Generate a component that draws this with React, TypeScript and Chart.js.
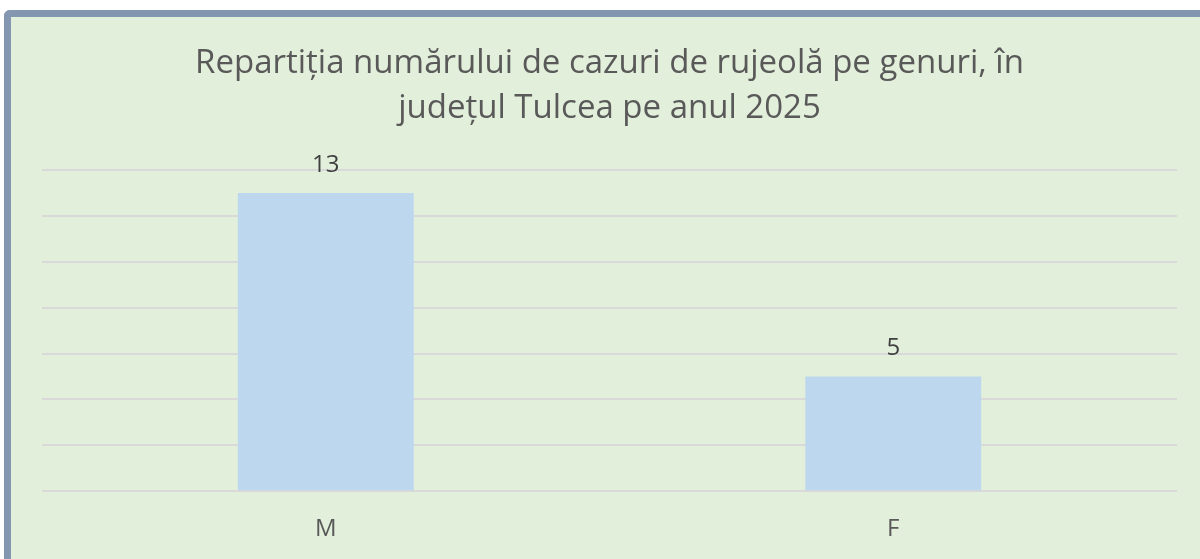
import React, { useEffect, useRef } from "react";
import { Chart, registerables } from "chart.js";

Chart.register(...registerables);

const categories = ["M", "F"];
const cases = [13, 5];
const titleLines = ["Repartiția numărului de cazuri de rujeolă pe genuri, în", "județul Tulcea pe anul 2025"];
const yMax = 14;
const yStep = 2;

const FONT = "'Open Sans', 'Noto Sans', sans-serif";

const valueLabels = {
  id: "valueLabels",
  afterDatasetsDraw(chart: any) {
    const ctx = chart.ctx;
    const meta = chart.getDatasetMeta(0);
    ctx.save();
    ctx.font = `24px ${FONT}`;
    ctx.fillStyle = "#404040";
    ctx.textAlign = "center";
    ctx.textBaseline = "middle";
    meta.data.forEach((bar: any, i: number) => {
      const v = chart.data.datasets[0].data[i];
      ctx.fillText(String(v), bar.x, bar.y - 28);
    });
    ctx.restore();
  },
};

export default function App() {
  const ref = useRef<HTMLCanvasElement | null>(null);
  useEffect(() => {
    document.body.style.margin = "0";
    if (!ref.current) return;
    const chart = new Chart(ref.current, {
      type: "bar",
      data: {
        labels: categories,
        datasets: [
          {
            data: cases,
            backgroundColor: "#BDD7EE",
            borderWidth: 0,
            barPercentage: 0.31,
            categoryPercentage: 1,
          },
        ],
      },
      options: {
        animation: false,
        responsive: false,
        maintainAspectRatio: false,
        layout: { padding: { left: 31, right: 23, top: 0, bottom: 0 } },
        plugins: {
          legend: { display: false },
          tooltip: { enabled: false },
          title: {
            display: true,
            text: titleLines,
            color: "#595959",
            font: { family: FONT, size: 33, weight: "normal", lineHeight: 45 / 33 },
            padding: { top: 24, bottom: 39 },
          },
        },
        scales: {
          x: {
            grid: { display: false, drawTicks: false },
            border: { display: false },
            ticks: {
              color: "#595959",
              font: { family: FONT, size: 24 },
              padding: 24,
            },
          },
          y: {
            min: 0,
            max: yMax,
            ticks: { display: false, stepSize: yStep },
            grid: { color: "#D9D9D9", lineWidth: 2, drawTicks: false },
            border: { display: false },
          },
        },
      },
      plugins: [valueLabels],
    });
    return () => chart.destroy();
  }, []);

  return (
    <div style={{ position: "relative", width: 1200, height: 559, background: "#ffffff", overflow: "hidden" }}>
      <div
        style={{
          position: "absolute",
          left: 4,
          top: 10,
          width: 1250,
          height: 600,
          borderLeft: "7px solid #8497B0",
          borderTop: "7px solid #8497B0",
          borderTopLeftRadius: 6,
          background: "#E2EFDA",
        }}
      >
        <canvas ref={ref} width={1189} height={551} style={{ display: "block", width: 1189, height: 551 }} />
      </div>
    </div>
  );
}
